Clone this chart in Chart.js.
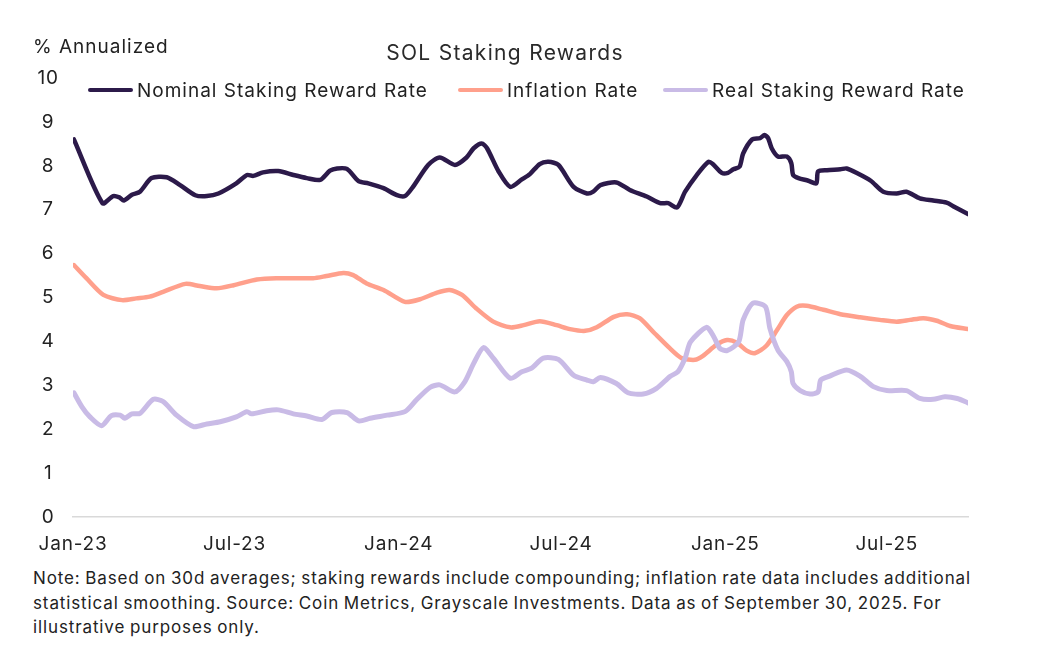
<!DOCTYPE html>
<html>
<head>
<meta charset="utf-8">
<script src="https://cdn.jsdelivr.net/npm/chart.js@4"></script>
<style>
  html,body{margin:0;padding:0;background:#fff;}
  #wrap{position:relative;width:1040px;height:652px;font-family:Inter,"Noto Sans",sans-serif;color:#222;}
  #cv{position:absolute;left:0;top:0;}
  .txt{position:absolute;white-space:nowrap;}
  #unit{left:33px;top:36px;font-size:19px;line-height:22px;letter-spacing:1px;}
  #title{left:0;width:1010px;text-align:center;top:41px;font-size:21px;line-height:24px;letter-spacing:1.3px;color:#2a2a2a;}
  #legend{position:absolute;left:0;top:78px;height:24px;width:1040px;}
  .li{position:absolute;top:0;height:24px;display:flex;align-items:center;font-size:19px;letter-spacing:1px;}
  .li span.sw{display:inline-block;width:45px;height:4px;border-radius:2px;margin-right:4px;}
  #note{left:33px;top:566px;font-size:17px;line-height:24.5px;letter-spacing:0.88px;word-spacing:-1px;white-space:normal;width:962px;}
</style>
</head>
<body>
<div id="wrap">
  <canvas id="cv" width="1040" height="560"></canvas>
  <div class="txt" id="unit">% Annualized</div>
  <div class="txt" id="title">SOL Staking Rewards</div>
  <div id="legend"></div>
  <div class="txt" id="note">Note: Based on 30d averages; staking rewards include compounding; inflation rate data includes additional statistical smoothing. Source: Coin Metrics, Grayscale Investments. Data as of September 30, 2025. For illustrative purposes only.</div>
</div>
<script>
// Days since 2023-01-01
const startDate = "2023-01-01";
const endDate = "2025-09-30";
const xTickDates = ["2023-01-01","2023-07-01","2024-01-01","2024-07-01","2025-01-01","2025-07-01"];
const xTickLabels = ["Jan-23","Jul-23","Jan-24","Jul-24","Jan-25","Jul-25"];
const yTickValues = [0,1,2,3,4,5,6,7,8,9,10];

const seriesNames = ["Nominal Staking Reward Rate","Inflation Rate","Real Staking Reward Rate"];

const nominalDays = [1,33,45,52,57,66,75,88,105,120,137,150,163,183,195,202,213,230,247,262,277,288,296,307,320,331,348,363,372,381,398,411,428,441,449,458,464,477,490,503,512,523,533,544,561,576,583,591,609,624,643,658,667,677,686,699,712,717,727,734,740,747,751,761,770,775,779,783,790,800,805,807,813,824,833,835,845,860,867,879,894,908,923,934,949,964,979,988,1003];
const nominalVals = [8.60,7.15,7.31,7.28,7.21,7.34,7.41,7.72,7.74,7.56,7.33,7.31,7.37,7.60,7.79,7.77,7.85,7.88,7.79,7.72,7.68,7.89,7.94,7.93,7.65,7.60,7.49,7.33,7.31,7.52,8.02,8.19,8.02,8.19,8.40,8.51,8.40,7.87,7.52,7.69,7.81,8.04,8.09,8.02,7.52,7.37,7.41,7.56,7.62,7.45,7.30,7.15,7.15,7.05,7.41,7.79,8.09,8.04,7.84,7.84,7.92,7.98,8.28,8.60,8.63,8.70,8.63,8.40,8.21,8.21,8.06,7.79,7.72,7.66,7.60,7.87,7.90,7.92,7.94,7.83,7.66,7.41,7.37,7.41,7.26,7.21,7.16,7.06,6.90];

const inflationDays = [1,15,34,55,71,86,101,126,142,161,180,206,228,269,284,303,314,329,348,372,389,408,422,436,452,471,490,505,523,542,557,574,587,606,621,635,652,669,682,697,706,721,733,744,755,764,777,789,800,811,822,841,860,882,904,923,938,953,968,983,1003];
const inflationVals = [5.74,5.44,5.06,4.94,4.98,5.02,5.13,5.31,5.26,5.21,5.28,5.41,5.44,5.44,5.49,5.56,5.51,5.32,5.17,4.90,4.96,5.11,5.17,5.06,4.75,4.45,4.32,4.37,4.46,4.37,4.28,4.24,4.32,4.56,4.62,4.53,4.18,3.84,3.62,3.58,3.67,3.92,4.03,3.97,3.79,3.73,3.90,4.26,4.60,4.79,4.81,4.72,4.62,4.55,4.49,4.45,4.49,4.53,4.47,4.35,4.28];

const realDays = [1,10,19,32,43,53,58,66,75,90,101,116,135,150,165,183,195,200,217,230,247,262,279,290,307,320,333,352,372,385,400,411,428,439,449,460,471,490,503,514,527,544,561,576,583,591,609,622,639,654,669,678,686,692,710,718,725,733,746,751,762,776,781,790,800,805,807,815,826,835,838,848,867,882,897,912,934,949,964,977,991,1003];
const realVals = [2.83,2.51,2.28,2.08,2.31,2.32,2.25,2.35,2.36,2.68,2.63,2.32,2.06,2.12,2.17,2.28,2.40,2.35,2.42,2.44,2.35,2.30,2.22,2.38,2.38,2.19,2.25,2.32,2.40,2.67,2.95,3.01,2.85,3.08,3.50,3.86,3.62,3.16,3.31,3.39,3.62,3.59,3.23,3.12,3.08,3.18,3.04,2.83,2.80,2.93,3.20,3.31,3.62,3.99,4.32,4.11,3.84,3.79,3.99,4.49,4.87,4.79,4.30,3.80,3.54,3.31,3.04,2.88,2.80,2.85,3.12,3.21,3.35,3.21,2.97,2.88,2.88,2.70,2.68,2.74,2.70,2.60];

const colors = ["#2c1a4a","#ffa08c","#c9bbe6"];
const widths = [4.5,4.5,5];

function dayOf(s){ return (Date.parse(s+"T00:00:00Z") - Date.parse(startDate+"T00:00:00Z"))/86400000; }
const xTickDays = xTickDates.map(dayOf);
const xMax = dayOf(endDate);

function pts(d,v){ return d.map((x,i)=>({x:x,y:v[i]})); }
const allDays = [nominalDays,inflationDays,realDays];
const allVals = [nominalVals,inflationVals,realVals];

const datasets = seriesNames.map((n,i)=>({
  label:n,
  data:pts(allDays[i],allVals[i]),
  borderColor:colors[i],
  backgroundColor:colors[i],
  borderWidth:widths[i],
  pointRadius:0,
  tension:0.25,
  borderCapStyle:'round',
  borderJoinStyle:'round',
  order: i===0?0:(i===1?2:1)
}));

// legend (HTML) from series
const legendX = [88,458,663];
const lg = document.getElementById('legend');
seriesNames.forEach((n,i)=>{
  const d=document.createElement('div'); d.className='li'; d.style.left=legendX[i]+'px';
  d.innerHTML='<span class="sw" style="background:'+colors[i]+'"></span>'+n;
  lg.appendChild(d);
});

const spacingPlugin = {
  id:'spacing',
  beforeDraw(chart){ try{ chart.ctx.letterSpacing='0.8px'; }catch(e){} }
};

new Chart(document.getElementById('cv'),{
  type:'line',
  data:{datasets:datasets},
  plugins:[spacingPlugin],
  options:{
    responsive:false,
    animation:false,
    layout:{padding:{left:0,right:72,top:78,bottom:0}},
    plugins:{legend:{display:false},title:{display:false},tooltip:{enabled:false}},
    scales:{
      x:{
        type:'linear', min:0, max:xMax,
        grid:{display:false,drawTicks:false},
        border:{display:true,color:'#d9d9d9',width:1.5},
        afterBuildTicks:(s)=>{ s.ticks = xTickDays.map(v=>({value:v})); },
        afterFit:(s)=>{ s.height = 43; },
        ticks:{
          autoSkip:false, maxRotation:0, padding:16,
          font:{family:'Inter',size:19}, color:'#222',
          callback:(v)=>{ const k=xTickDays.indexOf(v); return k>=0?xTickLabels[k]:''; }
        }
      },
      y:{
        min:0,max:10,
        grid:{display:false,drawTicks:false},
        border:{display:false},
        afterBuildTicks:(s)=>{ s.ticks = yTickValues.map(v=>({value:v})); },
        afterFit:(s)=>{ s.width = 73; },
        ticks:{ crossAlign:'center', padding:15, font:{family:'Inter',size:19}, color:'#222' }
      }
    }
  }
});
</script>
</body>
</html>
